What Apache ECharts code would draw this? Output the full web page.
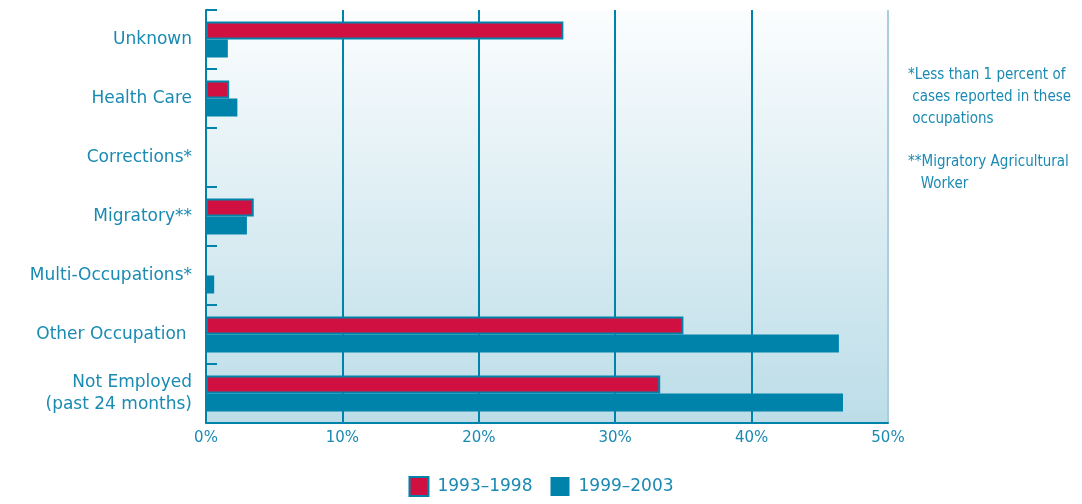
<!DOCTYPE html>
<html>
<head>
<meta charset="utf-8">
<script src="https://cdn.jsdelivr.net/npm/echarts@6/dist/echarts.min.js"></script>
<style>
html,body{margin:0;padding:0;background:#fff;}
#c{width:1082px;height:504px;}
</style>
</head>
<body>
<div id="c"></div>
<script>
const categories = ['Unknown', 'Health Care', 'Corrections*', 'Migratory**', 'Multi-Occupations*', 'Other Occupation ', 'Not Employed\n(past 24 months)'];
const series1993 = [26.2, 1.7, 0, 3.5, 0, 35.0, 33.3];
const series1999 = [1.6, 2.3, 0, 3.0, 0.6, 46.4, 46.7];
const seriesNames = ['1993–1998', '1999–2003'];
const xTicks = [0, 10, 20, 30, 40, 50];
const notes = ['*Less than 1 percent of', ' cases reported in these', ' occupations', '', '**Migratory Agricultural', '   Worker'];

const TEAL = '#0083aa';
const RED = '#d01040';
const TEXT = '#1a8ab2';
const FONT = '"DejaVu Sans", Verdana, sans-serif';

const chart = echarts.init(document.getElementById('c'));
chart.setOption({
  animation: false,
  grid: {
    left: 206, right: 194, top: 10, bottom: 81,
    show: true,
    borderWidth: 0,
    backgroundColor: {
      type: 'linear', x: 0, y: 0, x2: 0, y2: 1,
      colorStops: [{offset: 0, color: '#fbfdfe'}, {offset: 1, color: '#bcdde8'}]
    }
  },
  legend: {
    bottom: 2, left: 'center',
    itemWidth: 19, itemHeight: 19, itemGap: 18,
    icon: 'rect',
    textStyle: {color: TEXT, fontSize: 17, fontFamily: FONT, padding: [0, 0, 0, 4]},
    data: seriesNames
  },
  xAxis: {
    type: 'value', min: 0, max: 50, interval: 10,
    axisLine: {show: true, onZero: false, lineStyle: {color: TEAL, width: 2}},
    axisTick: {show: false},
    axisLabel: {
      color: TEXT, fontSize: 15, fontFamily: FONT, margin: 8,
      formatter: v => xTicks.includes(v) ? v + '%' : ''
    },
    splitLine: {show: true, lineStyle: {color: [TEAL, TEAL, TEAL, TEAL, TEAL, '#a9cfdc'], width: 2}}
  },
  yAxis: {
    type: 'category', data: categories, inverse: true,
    axisLine: {show: true, lineStyle: {color: TEAL, width: 2}},
    axisTick: {show: true, inside: true, length: 11, lineStyle: {color: TEAL, width: 2}},
    axisLabel: {color: TEXT, fontSize: 17, fontFamily: FONT, margin: 14, align: 'right', lineHeight: 22},
    splitLine: {show: false}
  },
  series: [
    {
      name: seriesNames[0], type: 'bar', data: series1993,
      barWidth: 18, barGap: '0%',
      itemStyle: {color: RED, borderColor: TEAL, borderWidth: 2}
    },
    {
      name: seriesNames[1], type: 'bar', data: series1999,
      barWidth: 18,
      itemStyle: {color: TEAL}
    }
  ],
  graphic: notes.map((t, i) => ({
    type: 'text', left: 908, top: 68 + i * 21.7,
    style: {text: t, fill: TEXT, fontSize: 15, fontFamily: '"Liberation Sans Narrow", "DejaVu Sans Condensed", sans-serif'}
  }))
});
</script>
</body>
</html>
